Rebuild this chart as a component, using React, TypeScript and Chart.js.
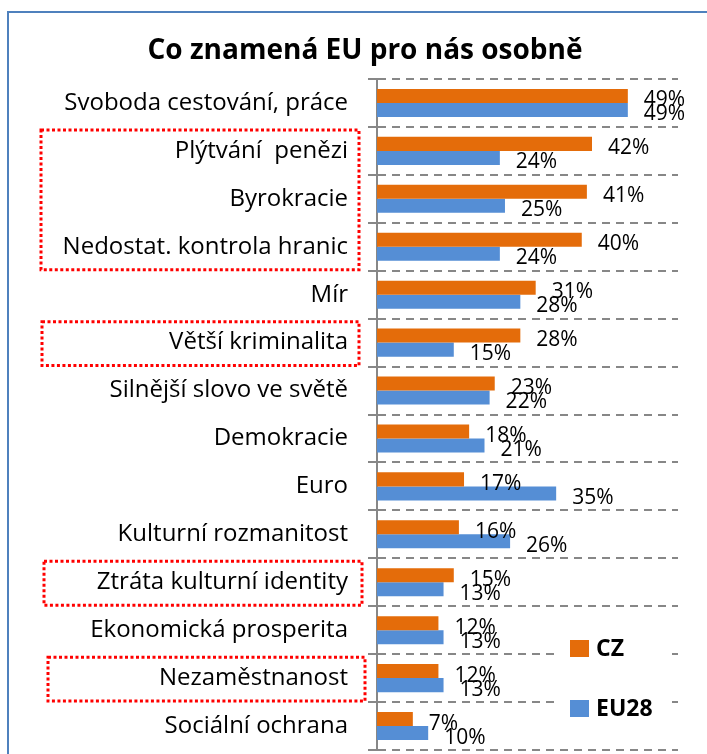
import React, { useEffect, useRef } from "react";
import { Chart, registerables } from "chart.js";

Chart.register(...registerables);

const TITLE = "Co znamená EU pro nás osobně";
const CATEGORIES = [
  "Svoboda cestování, práce",
  "Plýtvání  penězi",
  "Byrokracie",
  "Nedostat. kontrola hranic",
  "Mír",
  "Větší kriminalita",
  "Silnější slovo ve světě",
  "Demokracie",
  "Euro",
  "Kulturní rozmanitost",
  "Ztráta kulturní identity",
  "Ekonomická prosperita",
  "Nezaměstnanost",
  "Sociální ochrana",
];
const CZ = [49, 42, 41, 40, 31, 28, 23, 18, 17, 16, 15, 12, 12, 7];
const EU28 = [49, 24, 25, 24, 28, 15, 22, 21, 35, 26, 13, 13, 13, 10];
const SERIES_NAMES = ["CZ", "EU28"];
// highlighted category groups [firstIndex, lastIndex]
const HIGHLIGHTS = [
  [1, 3],
  [5, 5],
  [10, 10],
  [12, 12],
];

const FONT = "'Open Sans', 'Noto Sans', sans-serif";

const framePlugin = {
  id: "frame",
  beforeDraw(chart: any) {
    const ctx = chart.ctx;
    ctx.save();
    ctx.fillStyle = "#ffffff";
    ctx.fillRect(0, 0, chart.width, chart.height);
    ctx.strokeStyle = "#4F81BD";
    ctx.lineWidth = 2;
    ctx.strokeRect(8, 12, chart.width + 50, chart.height + 50);
    ctx.fillStyle = "#000";
    ctx.font = `bold 28px ${FONT}`;
    ctx.textAlign = "center";
    ctx.textBaseline = "alphabetic";
    ctx.fillText(TITLE, 365, 59);
    ctx.restore();
  },
};

const labelsPlugin = {
  id: "valueLabels",
  afterDatasetsDraw(chart: any) {
    const ctx = chart.ctx;
    ctx.save();
    ctx.font = `21px ${FONT}`;
    ctx.fillStyle = "#000";
    ctx.textAlign = "left";
    ctx.textBaseline = "alphabetic";
    chart.data.datasets.forEach((ds: any, di: number) => {
      const meta = chart.getDatasetMeta(di);
      meta.data.forEach((el: any, i: number) => {
        ctx.fillText(`${ds.data[i]}%`, el.x + 16, el.y + 10.5);
      });
    });
    ctx.restore();
  },
};

const boxesPlugin = {
  id: "boxes",
  afterDraw(chart: any) {
    const ctx = chart.ctx;
    const y = chart.scales.y;
    const step = y.height / CATEGORIES.length;
    ctx.save();
    ctx.strokeStyle = "#FF0000";
    ctx.lineWidth = 3;
    ctx.setLineDash([3, 2.5]);
    const xs = [
      [41, 359],
      [42, 359],
      [44, 362],
      [48, 365],
    ];
    HIGHLIGHTS.forEach(([a, b], k) => {
      const top = y.getPixelForValue(a) - step / 2 + 3;
      const bottom = y.getPixelForValue(b) + step / 2 - 1;
      ctx.strokeRect(xs[k][0], top, xs[k][1] - xs[k][0], bottom - top);
    });
    ctx.restore();
  },
};

const legendPlugin = {
  id: "customLegend",
  afterDraw(chart: any) {
    const ctx = chart.ctx;
    ctx.save();
    ctx.fillStyle = "#fff";
    ctx.fillRect(555, 615, 113, 125);
    ctx.font = `bold 23px ${FONT}`;
    ctx.textAlign = "left";
    ctx.textBaseline = "alphabetic";
    chart.data.datasets.forEach((ds: any, i: number) => {
      const cy = 648 + i * 60;
      ctx.fillStyle = ds.backgroundColor;
      ctx.fillRect(570, cy - 8, 19, 17);
      ctx.fillStyle = "#000";
      ctx.fillText(ds.label, 596, cy + 8);
    });
    ctx.restore();
  },
};

export default function App() {
  const ref = useRef<HTMLCanvasElement>(null);
  useEffect(() => {
    if (!ref.current) return;
    const chart = new Chart(ref.current, {
      type: "bar",
      data: {
        labels: CATEGORIES,
        datasets: [
          { label: SERIES_NAMES[0], data: CZ, backgroundColor: "#E46C0A" },
          { label: SERIES_NAMES[1], data: EU28, backgroundColor: "#558ED5" },
        ],
      },
      options: {
        indexAxis: "y",
        animation: false,
        responsive: false,
        devicePixelRatio: 1,
        layout: { padding: { top: 79, bottom: 4, left: 0, right: 29 } },
        datasets: {
          bar: { categoryPercentage: 0.585, barPercentage: 1 },
        },
        plugins: {
          legend: { display: false },
          title: { display: false },
          tooltip: { enabled: false },
        },
        scales: {
          x: { display: false, min: 0, max: 58.8 },
          y: {
            afterFit: (s: any) => {
              s.width = 377;
              s.paddingTop = 0;
              s.paddingBottom = 0;
            },
            border: { display: true, color: "#878787", width: 2, dash: [8, 6] },
            grid: {
              offset: true,
              color: "#878787",
              lineWidth: 2,
              drawTicks: true,
              tickLength: 9,
              tickColor: "#878787",
              tickWidth: 2,
              tickBorderDash: [],
            },
            ticks: {
              padding: 20,
              color: "#000",
              font: { family: FONT, size: 24 },
            },
          },
        },
      } as any,
      plugins: [framePlugin, labelsPlugin, boxesPlugin, legendPlugin],
    });
    return () => chart.destroy();
  }, []);
  return (
    <div style={{ position: "fixed", left: 0, top: 0, width: 707, height: 754 }}>
      <canvas ref={ref} width={707} height={754} />
    </div>
  );
}
